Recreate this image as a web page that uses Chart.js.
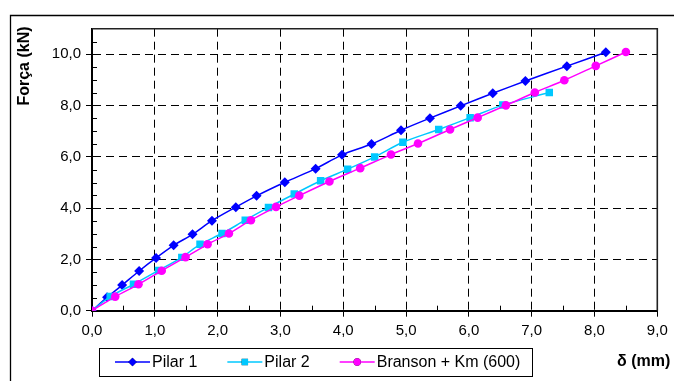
<!DOCTYPE html>
<html><head><meta charset="utf-8">
<script src="https://cdn.jsdelivr.net/npm/chart.js@4.4.1/dist/chart.umd.min.js"></script>
<style>html,body{margin:0;padding:0;background:#fff;}#wrap{position:relative;width:674px;height:381px;overflow:hidden;}canvas{display:block;}</style>
</head><body><div id="wrap"><canvas id="c" width="674" height="381"></canvas></div>
<script>
const seriesNames = ['Pilar 1', 'Pilar 2', 'Branson + Km (600)'];
const seriesColors = ['#0000FF', '#00C8FF', '#FF00FF'];
const pilar1X = [0, 0.24, 0.48, 0.75, 1.02, 1.30, 1.60, 1.91, 2.29, 2.62, 3.07, 3.56, 3.98, 4.45, 4.92, 5.38, 5.87, 6.38, 6.90, 7.56, 8.18];
const pilar1Y = [0, 0.52, 1.00, 1.55, 2.06, 2.55, 2.98, 3.51, 4.04, 4.48, 5.01, 5.54, 6.08, 6.50, 7.04, 7.51, 7.99, 8.48, 8.96, 9.54, 10.08];
const pilar2X = [0, 0.29, 0.66, 1.06, 1.43, 1.72, 2.07, 2.44, 2.81, 3.22, 3.64, 4.07, 4.50, 4.95, 5.52, 6.02, 6.54, 7.28];
const pilar2Y = [0, 0.55, 1.03, 1.57, 2.08, 2.59, 3.01, 3.53, 4.03, 4.55, 5.07, 5.52, 6.00, 6.57, 7.07, 7.53, 8.02, 8.51];
const bransonX = [0, 0.37, 0.74, 1.11, 1.49, 1.84, 2.18, 2.53, 2.93, 3.30, 3.78, 4.27, 4.76, 5.19, 5.70, 6.14, 6.59, 7.05, 7.52, 8.02, 8.50];
const bransonY = [0, 0.55, 1.03, 1.56, 2.09, 2.59, 3.01, 3.53, 4.05, 4.49, 5.04, 5.56, 6.09, 6.52, 7.07, 7.53, 8.01, 8.51, 8.99, 9.55, 10.09];
const xTickValues = [0, 1, 2, 3, 4, 5, 6, 7, 8, 9];
const xTickLabels = ['0,0', '1,0', '2,0', '3,0', '4,0', '5,0', '6,0', '7,0', '8,0', '9,0'];
const yTickValues = [0, 2, 4, 6, 8, 10];
const yTickLabels = ['0,0', '2,0', '4,0', '6,0', '8,0', '10,0'];
const xTitle = 'δ (mm)';
const yTitle = 'Força (kN)';

const FONT = '"Liberation Sans", Arial, sans-serif';
function pts(xs, ys) { return xs.map((x, i) => ({x: x, y: ys[i]})); }
const pointStyles = ['rectRot', 'rect', 'circle'];
const pointRadii = [5, 5.3, 4.3];

const decor = {
  id: 'decor',
  beforeDraw(chart) {
    const ctx = chart.ctx;
    ctx.save(); ctx.fillStyle = '#fff'; ctx.fillRect(0, 0, chart.width, chart.height); ctx.restore();
  },
  beforeDatasetsDraw(chart) {
    const {ctx, chartArea: a, scales: {x, y}} = chart;
    ctx.save();
    ctx.strokeStyle = '#000'; ctx.lineWidth = 1;
    ctx.beginPath();
    for (let v = 0.5; v < 9; v += 1) {
      const px = Math.round(x.getPixelForValue(v)) + 0.5;
      ctx.moveTo(px, a.bottom); ctx.lineTo(px, a.bottom - 5);
    }
    for (let v = 0.5; v < 11; v += 0.5) {
      if (v % 2 === 0) continue;
      const py = Math.round(y.getPixelForValue(v)) + 0.5;
      ctx.moveTo(a.left, py); ctx.lineTo(a.left + 5, py);
    }
    ctx.stroke();
    ctx.strokeStyle = '#222'; ctx.lineWidth = 1.6;
    ctx.beginPath();
    ctx.moveTo(a.left, a.top); ctx.lineTo(a.right, a.top); ctx.lineTo(a.right, a.bottom);
    ctx.stroke();
    ctx.restore();
  },
  afterDraw(chart) {
    const ctx = chart.ctx;
    ctx.save();
    // outer frame
    ctx.strokeStyle = '#000'; ctx.lineWidth = 1.3;
    ctx.beginPath(); ctx.moveTo(10.5, 400); ctx.lineTo(10.5, 15.5); ctx.lineTo(700, 15.5); ctx.stroke();
    // y title
    ctx.fillStyle = '#000';
    ctx.font = 'bold 16px ' + FONT;
    ctx.save(); ctx.translate(25, 66); ctx.rotate(-Math.PI / 2);
    ctx.textAlign = 'center'; ctx.textBaseline = 'middle';
    ctx.fillText(yTitle, 0, 0); ctx.restore();
    // x title
    ctx.textAlign = 'left'; ctx.textBaseline = 'alphabetic';
    ctx.fillText(xTitle, 617, 365.5);
    // legend
    ctx.lineWidth = 1; ctx.strokeStyle = '#000';
    ctx.strokeRect(99.5, 348.5, 433, 28);
    ctx.font = '16px ' + FONT;
    ctx.textBaseline = 'middle';
    let lx = 115; const ly = 362;
    chart.data.datasets.forEach((ds, i) => {
      ctx.strokeStyle = ds.borderColor; ctx.lineWidth = 1.5;
      ctx.beginPath(); ctx.moveTo(lx, ly); ctx.lineTo(lx + 35, ly); ctx.stroke();
      Chart.helpers.drawPoint(ctx, {pointStyle: ds.pointStyle, rotation: 0, borderWidth: 0, radius: ds.pointRadius * 0.85}, lx + 17.5, ly);
      ctx.fillStyle = ds.backgroundColor; ctx.fill();
      ctx.fillStyle = '#000';
      ctx.fillText(ds.label, lx + 37, ly + 0.5);
      lx += 37 + ctx.measureText(ds.label).width + 30;
    });
    ctx.restore();
  }
};

const datasets = [pts(pilar1X, pilar1Y), pts(pilar2X, pilar2Y), pts(bransonX, bransonY)].map((d, i) => ({
  label: seriesNames[i],
  data: d,
  borderColor: seriesColors[i],
  backgroundColor: seriesColors[i],
  pointBackgroundColor: seriesColors[i],
  pointBorderColor: seriesColors[i],
  pointBorderWidth: 0,
  pointStyle: pointStyles[i],
  pointRadius: pointRadii[i],
  borderWidth: 1.5,
  tension: 0.3,
  order: 2 - i,
  fill: false
}));

new Chart(document.getElementById('c'), {
  type: 'line',
  data: {datasets: datasets},
  options: {
    responsive: false, animation: false, devicePixelRatio: 1,
    layout: {padding: {left: 0, right: 16.7, top: 28.7, bottom: 0}},
    plugins: {legend: {display: false}, tooltip: {enabled: false}},
    scales: {
      x: {
        type: 'linear', min: 0, max: 9,
        afterBuildTicks: s => { s.ticks = xTickValues.map(v => ({value: v})); },
        afterFit: s => { s.height = 70.3; },
        ticks: {callback: (v, i) => xTickLabels[i], color: '#000', font: {family: FONT, size: 15}, padding: 5, maxRotation: 0, autoSkip: false},
        grid: {color: '#000', lineWidth: 1, tickLength: 6, tickColor: '#000', tickWidth: 1, tickBorderDash: []},
        border: {display: true, color: '#000', width: 2, dash: [8, 5]}
      },
      y: {
        type: 'linear', min: 0, max: 11,
        afterBuildTicks: s => { s.ticks = yTickValues.map(v => ({value: v})); },
        afterFit: s => { s.width = 92; },
        ticks: {callback: (v, i) => yTickLabels[i], color: '#000', font: {family: FONT, size: 15}, padding: 5, autoSkip: false},
        grid: {color: '#000', lineWidth: 1, tickLength: 6, tickColor: '#000', tickWidth: 1, tickBorderDash: []},
        border: {display: true, color: '#000', width: 2, dash: [8, 5]}
      }
    }
  },
  plugins: [decor]
});
</script></body></html>
